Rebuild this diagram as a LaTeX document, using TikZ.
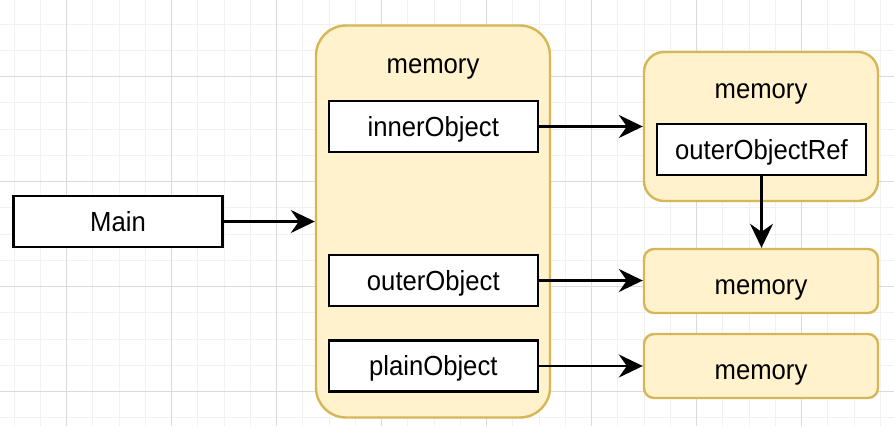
\documentclass[tikz,border=0pt]{standalone}
\usepackage{graphicx}
\usepackage{fontspec}
\setmainfont{Liberation Sans}
\usetikzlibrary{arrows.meta}
\definecolor{memfill}{HTML}{FFF2CC}
\definecolor{memdraw}{HTML}{D6B656}
\definecolor{gridminor}{HTML}{F1F1F1}
\definecolor{gridmajor}{HTML}{DADADA}
\newcommand{\dtxt}[1]{\scalebox{0.93}[1]{#1}}
\begin{document}
\begin{tikzpicture}[x=1pt,y=-1pt,
  txt/.style={font=\fontsize{27.6}{32}\selectfont},
  objbox/.style={draw=black, fill=white, line width=2.4pt, inner sep=0pt, minimum width=209pt, minimum height=51pt, txt, text height=19.6pt, text depth=0pt},
  membox/.style={draw=memdraw, fill=memfill, line width=2.4pt, inner sep=0pt, minimum width=234pt},
  smallmem/.style={membox, minimum height=64pt, rounded corners=10pt, txt, text height=26.5pt, text depth=0pt},
  conn/.style={line width=2.4pt, -{Stealth[length=24pt, width=23pt, inset=8pt]}}
]
\useasboundingbox (0,0) rectangle (894,426);
\fill[white] (0,0) rectangle (894,426);
% grid
\foreach \i in {-1,...,34} \draw[gridminor, line width=1pt] ({14.2+26.25*\i},0) -- ({14.2+26.25*\i},426);
\foreach \i in {0,...,17} \draw[gridminor, line width=1pt] (0,{-2.05+26.25*\i}) -- (894,{-2.05+26.25*\i});
\foreach \i in {0,...,7} \draw[gridmajor, line width=1pt] ({66.7+105*\i},0) -- ({66.7+105*\i},426);
\foreach \i in {0,...,3} \draw[gridmajor, line width=1pt] (0,{76.7+105*\i}) -- (894,{76.7+105*\i});

% memory containers
\node[membox, minimum height=392pt, rounded corners=30pt] (big) at (433,221.5) {};
\node[txt, anchor=base, inner sep=0pt] (bigl) at (433,73.3) {\dtxt{memory}};
\node[membox, minimum height=149pt, rounded corners=20pt] (rt) at (761,126.5) {};
\node[txt, anchor=base, inner sep=0pt] (rtl) at (761,98.3) {\dtxt{memory}};
\node[smallmem] (mid) at (761,281) {\dtxt{memory}};
\node[smallmem] (bot) at (761,366) {\dtxt{memory}};

% object boxes
\node[objbox] (main) at (118,221.5) {\dtxt{Main}};
\node[objbox] (inner) at (433.3,126.5) {\dtxt{innerObject}};
\node[objbox] (outer) at (433.3,280.5) {\dtxt{outerObject}};
\node[objbox] (plain) at (433.3,366) {\dtxt{plainObject}};
\node[objbox] (ref) at (761.5,149.5) {\dtxt{outerObjectRef}};

% connectors
\draw[conn] (main.east) -- (big.west);
\draw[conn] (inner.east) -- (inner.east -| rt.west);
\draw[conn] (outer.east) -- (outer.east -| mid.west);
\draw[conn] (plain.east) -- (plain.east -| bot.west);
\draw[conn] (ref.south) -- (ref.south |- mid.north);
\end{tikzpicture}
\end{document}
